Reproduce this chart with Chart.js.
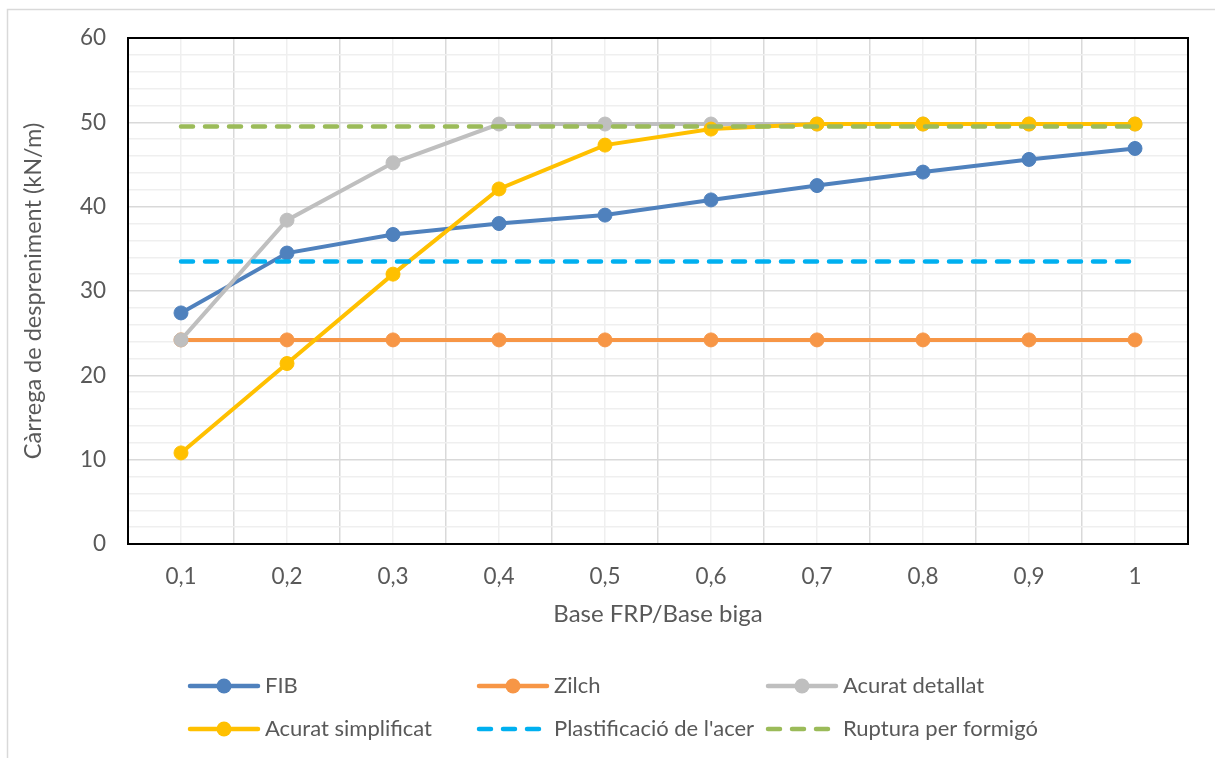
<!DOCTYPE html>
<html>
<head>
<meta charset="utf-8">
<script src="https://cdn.jsdelivr.net/npm/chart.js@4.4.1/dist/chart.umd.min.js"></script>
<style>
  html, body { margin: 0; padding: 0; background: #fff; overflow: hidden; }
  #wrap { position: relative; width: 1215px; height: 758px; }
</style>
</head>
<body>
<div id="wrap"><canvas id="c" width="1215" height="758"></canvas></div>
<script>
// Base FRP / Base biga ratios
const categories = [0.1, 0.2, 0.3, 0.4, 0.5, 0.6, 0.7, 0.8, 0.9, 1.0];
const xTickLabels = ['0,1', '0,2', '0,3', '0,4', '0,5', '0,6', '0,7', '0,8', '0,9', '1'];
const yMajorTicks = [0, 10, 20, 30, 40, 50, 60];

// Càrrega de despreniment (kN/m)
const fib               = [27.4, 34.5, 36.7, 38.0, 39.0, 40.8, 42.5, 44.1, 45.6, 46.9];
const zilch             = [24.2, 24.2, 24.2, 24.2, 24.2, 24.2, 24.2, 24.2, 24.2, 24.2];
const acuratDetallat    = [24.2, 38.4, 45.2, 49.8, 49.8, 49.8, 49.8, 49.8, 49.8, 49.8];
const acuratSimplificat = [10.8, 21.4, 32.0, 42.1, 47.3, 49.2, 49.8, 49.8, 49.8, 49.8];
const plastificacio     = [33.5, 33.5, 33.5, 33.5, 33.5, 33.5, 33.5, 33.5, 33.5, 33.5];
const ruptura           = [49.5, 49.5, 49.5, 49.5, 49.5, 49.5, 49.5, 49.5, 49.5, 49.5];

const seriesNames = ['FIB', 'Zilch', 'Acurat detallat', 'Acurat simplificat',
                     "Plastificació de l'acer", 'Ruptura per formigó'];

const TEXT = '#595959';
const FONT = 'Lato';

function points(values) {
  return categories.map((c, i) => ({ x: c, y: values[i] }));
}

function solid(label, values, color, order) {
  return {
    label, data: points(values), order,
    borderColor: color, backgroundColor: color,
    borderWidth: 4, tension: 0,
    pointRadius: 7, pointHoverRadius: 7,
    pointBorderWidth: 1, pointBorderColor: color, pointBackgroundColor: color
  };
}

function dashed(label, values, color, order) {
  return {
    label, data: points(values), order,
    borderColor: color, backgroundColor: color,
    borderWidth: 4.5, tension: 0,
    borderDash: [12, 12], borderCapStyle: 'round',
    pointRadius: 0, pointHoverRadius: 0
  };
}

// Later series are painted on top (lower order = drawn last)
const datasets = [
  solid(seriesNames[0], fib, '#4f81bd', 6),
  solid(seriesNames[1], zilch, '#f79646', 5),
  solid(seriesNames[2], acuratDetallat, '#bfbfbf', 4),
  solid(seriesNames[3], acuratSimplificat, '#ffc000', 3),
  dashed(seriesNames[4], plastificacio, '#00b0f0', 2),
  dashed(seriesNames[5], ruptura, '#9bbb59', 1)
];

// Outer frame and plot-area border
const framePlugin = {
  id: 'frame',
  beforeDraw(chart) {
    const ctx = chart.ctx;
    ctx.save();
    ctx.strokeStyle = '#d9d9d9';
    ctx.lineWidth = 1.5;
    ctx.beginPath();
    ctx.moveTo(7.5, chart.height);
    ctx.lineTo(7.5, 9.5);
    ctx.lineTo(chart.width, 9.5);
    ctx.stroke();
    ctx.restore();
  },
  beforeDatasetsDraw(chart) {
    const { left, top, right, bottom } = chart.chartArea;
    const ctx = chart.ctx;
    ctx.save();
    ctx.strokeStyle = '#000';
    ctx.lineWidth = 2;
    ctx.strokeRect(left, top, right - left, bottom - top);
    ctx.restore();
  }
};

// Legend laid out in three fixed columns, two rows
const legendPlugin = {
  id: 'gridLegend',
  afterDraw(chart) {
    const ctx = chart.ctx;
    const colStart = 188, colStep = 289, rowY = [686, 729];
    chart.data.datasets.forEach((ds, i) => {
      const x0 = colStart + (i % 3) * colStep;
      const y = rowY[Math.floor(i / 3)];
      ctx.save();
      ctx.strokeStyle = ds.borderColor;
      ctx.lineWidth = 4.5;
      ctx.lineCap = 'round';
      ctx.beginPath();
      if (ds.borderDash) {
        ctx.setLineDash(ds.borderDash);
        ctx.moveTo(x0 + 2, y);
        ctx.lineTo(x0 + 64, y);
      } else {
        ctx.moveTo(x0 + 2, y);
        ctx.lineTo(x0 + 70, y);
      }
      ctx.stroke();
      ctx.setLineDash([]);
      if (ds.pointRadius > 0) {
        ctx.fillStyle = ds.borderColor;
        ctx.beginPath();
        ctx.arc(x0 + 36, y, 7.5, 0, Math.PI * 2);
        ctx.fill();
      }
      ctx.fillStyle = TEXT;
      ctx.font = '22px ' + FONT;
      ctx.textBaseline = 'middle';
      ctx.textAlign = 'left';
      ctx.fillText(ds.label, x0 + 77, y);
      ctx.restore();
    });
  }
};

function build() {
  Chart.defaults.font.family = FONT;
  Chart.defaults.color = TEXT;
  new Chart(document.getElementById('c'), {
    type: 'line',
    data: { datasets },
    plugins: [framePlugin, legendPlugin],
    options: {
      responsive: false,
      animation: false,
      devicePixelRatio: 1,
      layout: { padding: { left: 0, top: 38, right: 27, bottom: 114 } },
      plugins: { legend: { display: false }, tooltip: { enabled: false } },
      scales: {
        x: {
          type: 'linear',
          min: 0.05, max: 1.05,
          afterBuildTicks(scale) {
            const t = [];
            for (let i = 0; i <= 20; i++) t.push({ value: +(0.05 + 0.05 * i).toFixed(2) });
            scale.ticks = t;
          },
          afterFit(scale) { scale.height = 100; },
          ticks: {
            autoSkip: false, maxRotation: 0, padding: 19,
            font: { size: 22.5 }, color: TEXT,
            callback: (v, i) => (i % 2 === 1 ? xTickLabels[(i - 1) / 2] : '')
          },
          grid: {
            drawTicks: false,
            color: ctx => (ctx.index % 2 === 0 ? '#d9d9d9' : '#efefef'),
            lineWidth: 1.5
          },
          border: { display: false },
          title: {
            display: true, text: 'Base FRP/Base biga',
            font: { size: 24 }, color: TEXT,
            padding: { top: 0, bottom: 15 }
          }
        },
        y: {
          min: 0, max: 60,
          afterBuildTicks(scale) {
            const t = [];
            for (let v = yMajorTicks[0]; v <= yMajorTicks[yMajorTicks.length - 1]; v += 2) t.push({ value: v });
            scale.ticks = t;
          },
          afterFit(scale) { scale.width = 128; },
          ticks: {
            autoSkip: false,
            padding: 22, font: { size: 22.5 }, color: TEXT,
            callback: v => (yMajorTicks.includes(v) ? String(v) : '')
          },
          grid: {
            drawTicks: false,
            color: ctx => (ctx.tick && ctx.tick.value % 10 === 0 ? '#d9d9d9' : '#efefef'),
            lineWidth: 1.5
          },
          border: { display: false },
          title: {
            display: true, text: 'Càrrega de despreniment (kN/m)',
            font: { size: 23.5 }, color: TEXT,
            padding: { top: 19, bottom: 0 }
          }
        }
      }
    }
  });
}

if (document.fonts && document.fonts.load) {
  document.fonts.load('20px ' + FONT).then(build, build);
} else {
  build();
}
</script>
</body>
</html>
